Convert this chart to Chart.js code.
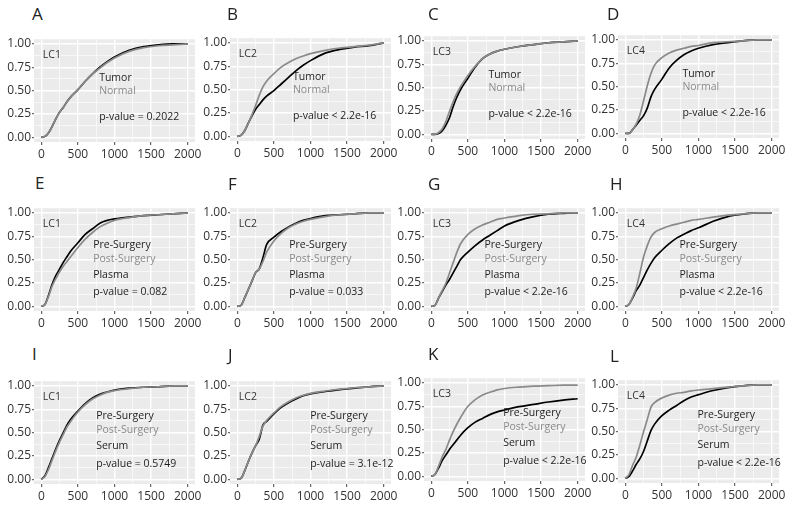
<!DOCTYPE html>
<html><head><meta charset="utf-8">
<script src="https://cdn.jsdelivr.net/npm/chart.js@4.4.1/dist/chart.umd.min.js"></script>
<style>
html,body{margin:0;padding:0;background:#fff;width:800px;height:505px;overflow:hidden;}
#wrap{position:relative;width:800px;height:505px;}
canvas{position:absolute;}
.lt{position:absolute;font-family:"Open Sans";font-size:17px;line-height:17px;color:#222;}
</style></head><body><div id="wrap"></div>
<script>
// ---- data ----
const xs = [0,50,100,150,200,250,300,350,400,500,600,700,800,900,1000,1200,1400,1600,1800,2000];
const xTickValues = [0,500,1000,1500,2000];
const yTickValues = [0,0.25,0.5,0.75,1];

const A_tumor  = [0,0.01,0.05,0.12,0.20,0.27,0.32,0.38,0.43,0.51,0.60,0.68,0.75,0.81,0.86,0.93,0.97,0.99,1.0,1.0];
const A_normal = [0,0.01,0.05,0.12,0.20,0.27,0.32,0.38,0.43,0.51,0.60,0.68,0.74,0.80,0.85,0.92,0.96,0.98,0.99,1.0];
const B_tumor  = [0,0.01,0.06,0.14,0.22,0.29,0.34,0.39,0.43,0.49,0.56,0.63,0.70,0.76,0.81,0.89,0.93,0.955,0.97,1.0];
const B_normal = [0,0.01,0.06,0.14,0.23,0.33,0.44,0.53,0.59,0.67,0.74,0.79,0.83,0.86,0.885,0.92,0.945,0.96,0.975,1.0];
const C_tumor  = [0,0,0.01,0.04,0.10,0.18,0.30,0.40,0.48,0.60,0.72,0.81,0.86,0.89,0.91,0.94,0.96,0.98,0.99,1.0];
const C_normal = [0,0,0.02,0.06,0.14,0.25,0.35,0.44,0.51,0.63,0.73,0.81,0.86,0.89,0.91,0.94,0.96,0.98,0.99,1.0];
const D_tumor  = [0,0,0.04,0.09,0.14,0.19,0.27,0.39,0.47,0.58,0.70,0.78,0.84,0.88,0.91,0.95,0.97,0.99,1.0,1.0];
const D_normal = [0,0,0.04,0.10,0.20,0.35,0.51,0.64,0.73,0.81,0.86,0.89,0.91,0.93,0.94,0.97,0.98,0.99,1.0,1.0];
const E_pre  = [0,0.02,0.12,0.24,0.33,0.40,0.47,0.53,0.59,0.68,0.77,0.83,0.89,0.92,0.935,0.955,0.97,0.98,0.99,1.0];
const E_post = [0,0.02,0.11,0.22,0.30,0.37,0.43,0.48,0.53,0.63,0.72,0.79,0.85,0.89,0.92,0.95,0.97,0.98,0.99,1.0];
const F_pre  = [0,0.01,0.09,0.18,0.27,0.36,0.40,0.52,0.66,0.74,0.80,0.85,0.89,0.92,0.94,0.97,0.98,0.99,1.0,1.0];
const F_post = [0,0.01,0.09,0.18,0.27,0.36,0.40,0.48,0.58,0.70,0.78,0.84,0.88,0.91,0.93,0.96,0.98,0.99,1.0,1.0];
const G_pre  = [0,0.01,0.09,0.16,0.23,0.29,0.36,0.43,0.50,0.58,0.65,0.71,0.76,0.81,0.86,0.92,0.96,0.985,0.995,1.0];
const G_post = [0,0.01,0.09,0.17,0.25,0.36,0.47,0.58,0.67,0.77,0.83,0.87,0.90,0.93,0.945,0.97,0.985,0.99,1.0,1.0];
const H_pre  = [0,0.02,0.09,0.17,0.23,0.31,0.39,0.46,0.52,0.60,0.67,0.73,0.77,0.81,0.84,0.91,0.96,0.985,1.0,1.0];
const H_post = [0,0.02,0.10,0.20,0.36,0.53,0.65,0.74,0.79,0.83,0.86,0.88,0.90,0.92,0.93,0.955,0.975,0.99,1.0,1.0];
const I_pre  = [0,0.04,0.13,0.23,0.33,0.42,0.50,0.58,0.64,0.73,0.81,0.87,0.91,0.935,0.955,0.975,0.985,0.99,1.0,1.0];
const I_post = [0,0.03,0.11,0.21,0.31,0.40,0.48,0.56,0.62,0.72,0.80,0.86,0.90,0.93,0.95,0.97,0.985,0.99,1.0,1.0];
const J_pre  = [0,0.01,0.09,0.19,0.28,0.36,0.43,0.58,0.62,0.70,0.77,0.82,0.86,0.895,0.915,0.94,0.96,0.975,0.99,1.0];
const J_post = [0,0.01,0.09,0.19,0.28,0.36,0.46,0.57,0.63,0.71,0.78,0.83,0.87,0.90,0.92,0.945,0.965,0.98,0.99,1.0];
const K_pre  = [0,0.02,0.09,0.17,0.23,0.29,0.34,0.39,0.44,0.52,0.58,0.62,0.66,0.69,0.71,0.745,0.77,0.795,0.815,0.83];
const K_post = [0,0.02,0.11,0.21,0.29,0.39,0.48,0.56,0.63,0.75,0.82,0.87,0.90,0.925,0.94,0.955,0.965,0.97,0.975,0.975];
const L_pre  = [0,0.02,0.08,0.15,0.21,0.29,0.40,0.51,0.58,0.67,0.73,0.78,0.83,0.87,0.895,0.94,0.97,0.99,1.0,1.0];
const L_post = [0,0.04,0.14,0.23,0.36,0.50,0.63,0.76,0.81,0.86,0.89,0.91,0.92,0.935,0.945,0.96,0.975,0.99,1.0,1.0];

const letters = ['A','B','C','D','E','F','G','H','I','J','K','L'];
const lcLabels = ['LC1','LC2','LC3','LC4','LC1','LC2','LC3','LC4','LC1','LC2','LC3','LC4'];
const pValues = ['p-value = 0.2022','p-value < 2.2e-16','p-value < 2.2e-16','p-value < 2.2e-16',
                 'p-value = 0.082','p-value = 0.033','p-value < 2.2e-16','p-value < 2.2e-16',
                 'p-value = 0.5749','p-value = 3.1e-12','p-value < 2.2e-16','p-value < 2.2e-16'];
const blackSeries = [A_tumor,B_tumor,C_tumor,D_tumor,E_pre,F_pre,G_pre,H_pre,I_pre,J_pre,K_pre,L_pre];
const graySeries  = [A_normal,B_normal,C_normal,D_normal,E_post,F_post,G_post,H_post,I_post,J_post,K_post,L_post];
const rowGroups = [['Tumor','Normal'],['Pre-Surgery','Post-Surgery','Plasma'],['Pre-Surgery','Post-Surgery','Serum']];

// ---- layout / style ----
const DARK = '#1e1e1e', GRAY = '#8a8a8a';
const colLeft = [34,230,424,618];
const panelTop = [31,30,28,27, 200,200,200,200, 373,373,370,372];
const CW = 161, CH = 111, YW = 34, XH = 24, PR = 18;
const textX = [790,760,780,780, 708,708,726,740, 750,995,982,986];
const rowTextY = [[0.64,0.50],[0.66,0.51,0.34],[0.68,0.53,0.36]];
const rowPY = [0.22,0.15,0.16];
const letterPos = [[32,5],[227,5],[428,5],[607,5],[35,174],[228,175],[428,175],[610,175],[32,345],[228,346],[428,345],[610,347]];

const wrap = document.getElementById('wrap');
const isMajorX = v => Math.abs(v % 500) < 1e-6;
const isMajorY = v => Math.abs(v*4 - Math.round(v*4)) < 1e-6;

const bgPlugin = {
  id:'bg',
  beforeDraw(chart){
    const a = chart.chartArea, c = chart.ctx;
    c.save(); c.fillStyle = '#ebebeb'; c.fillRect(a.left, a.top, a.right-a.left, a.bottom-a.top); c.restore();
  }
};

for (let i = 0; i < 12; i++) {
  const row = Math.floor(i/4), col = i % 4;
  const cv = document.createElement('canvas');
  cv.width = YW + CW + PR; cv.height = CH + XH;
  cv.style.left = (colLeft[col] - YW) + 'px';
  cv.style.top = panelTop[i] + 'px';
  wrap.appendChild(cv);

  const lt = document.createElement('div');
  lt.className = 'lt'; lt.textContent = letters[i];
  lt.style.left = letterPos[i][0] + 'px'; lt.style.top = letterPos[i][1] + 'px';
  wrap.appendChild(lt);

  const toPts = arr => xs.map((x, k) => ({x: x, y: arr[k]}));
  const groups = rowGroups[row];
  const textPlugin = {
    id:'txt',
    afterDatasetsDraw(chart){
      const c = chart.ctx, sx = chart.scales.x, sy = chart.scales.y;
      c.save();
      c.font = '10.5px "Open Sans"';
      c.textBaseline = 'middle'; c.textAlign = 'left';
      c.fillStyle = '#333';
      c.fillText(lcLabels[i], sx.getPixelForValue(20), sy.getPixelForValue(0.88));
      groups.forEach((g, k) => {
        c.fillStyle = (k === 1) ? GRAY : DARK;
        c.fillText(g, sx.getPixelForValue(textX[i]), sy.getPixelForValue(rowTextY[row][k]));
      });
      c.fillStyle = DARK;
      c.fillText(pValues[i], sx.getPixelForValue(textX[i]), sy.getPixelForValue(rowPY[row]));
      c.restore();
    }
  };

  new Chart(cv, {
    type:'line',
    data:{ datasets:[
      {data: toPts(graySeries[i]), borderColor: GRAY, borderWidth: 1.7, pointRadius: 0, cubicInterpolationMode:'monotone', fill:false},
      {data: toPts(blackSeries[i]), borderColor: '#000', borderWidth: 1.7, pointRadius: 0, cubicInterpolationMode:'monotone', fill:false}
    ]},
    options:{
      responsive:false, animation:false, maintainAspectRatio:false,
      layout:{ autoPadding:false, padding:{left:0, top:0, right:PR, bottom:0} },
      plugins:{ legend:{display:false}, tooltip:{enabled:false} },
      scales:{
        x:{ type:'linear', min:-100, max:2100,
          afterBuildTicks: s => { s.ticks = [0,250,500,750,1000,1250,1500,1750,2000].map(v => ({value:v})); },
          afterFit: s => { s.height = XH; },
          border:{display:false},
          grid:{ color:'#ffffff', lineWidth: c => (c.tick && isMajorX(c.tick.value)) ? 1.4 : 0.6,
                 tickColor: c => (c.tick && isMajorX(c.tick.value)) ? '#444' : 'rgba(0,0,0,0)', tickLength:3, tickWidth:1 },
          ticks:{ autoSkip:false, maxRotation:0, padding:2, color:'#333', font:{family:'Open Sans', size:12},
                  callback: v => xTickValues.includes(v) ? String(v) : '' }
        },
        y:{ type:'linear', min:-0.05, max:1.05,
          afterBuildTicks: s => { s.ticks = [0,0.125,0.25,0.375,0.5,0.625,0.75,0.875,1].map(v => ({value:v})); },
          afterFit: s => { s.width = YW; },
          border:{display:false},
          grid:{ color:'#ffffff', lineWidth: c => (c.tick && isMajorY(c.tick.value)) ? 1.4 : 0.6,
                 tickColor: c => (c.tick && isMajorY(c.tick.value)) ? '#444' : 'rgba(0,0,0,0)', tickLength:2, tickWidth:1 },
          ticks:{ autoSkip:false, padding:1, color:'#333', font:{family:'Open Sans', size:12},
                  callback: v => yTickValues.some(t => Math.abs(t - v) < 1e-6) ? v.toFixed(2) : '' }
        }
      }
    },
    plugins:[bgPlugin, textPlugin]
  });
}
</script></body></html>
